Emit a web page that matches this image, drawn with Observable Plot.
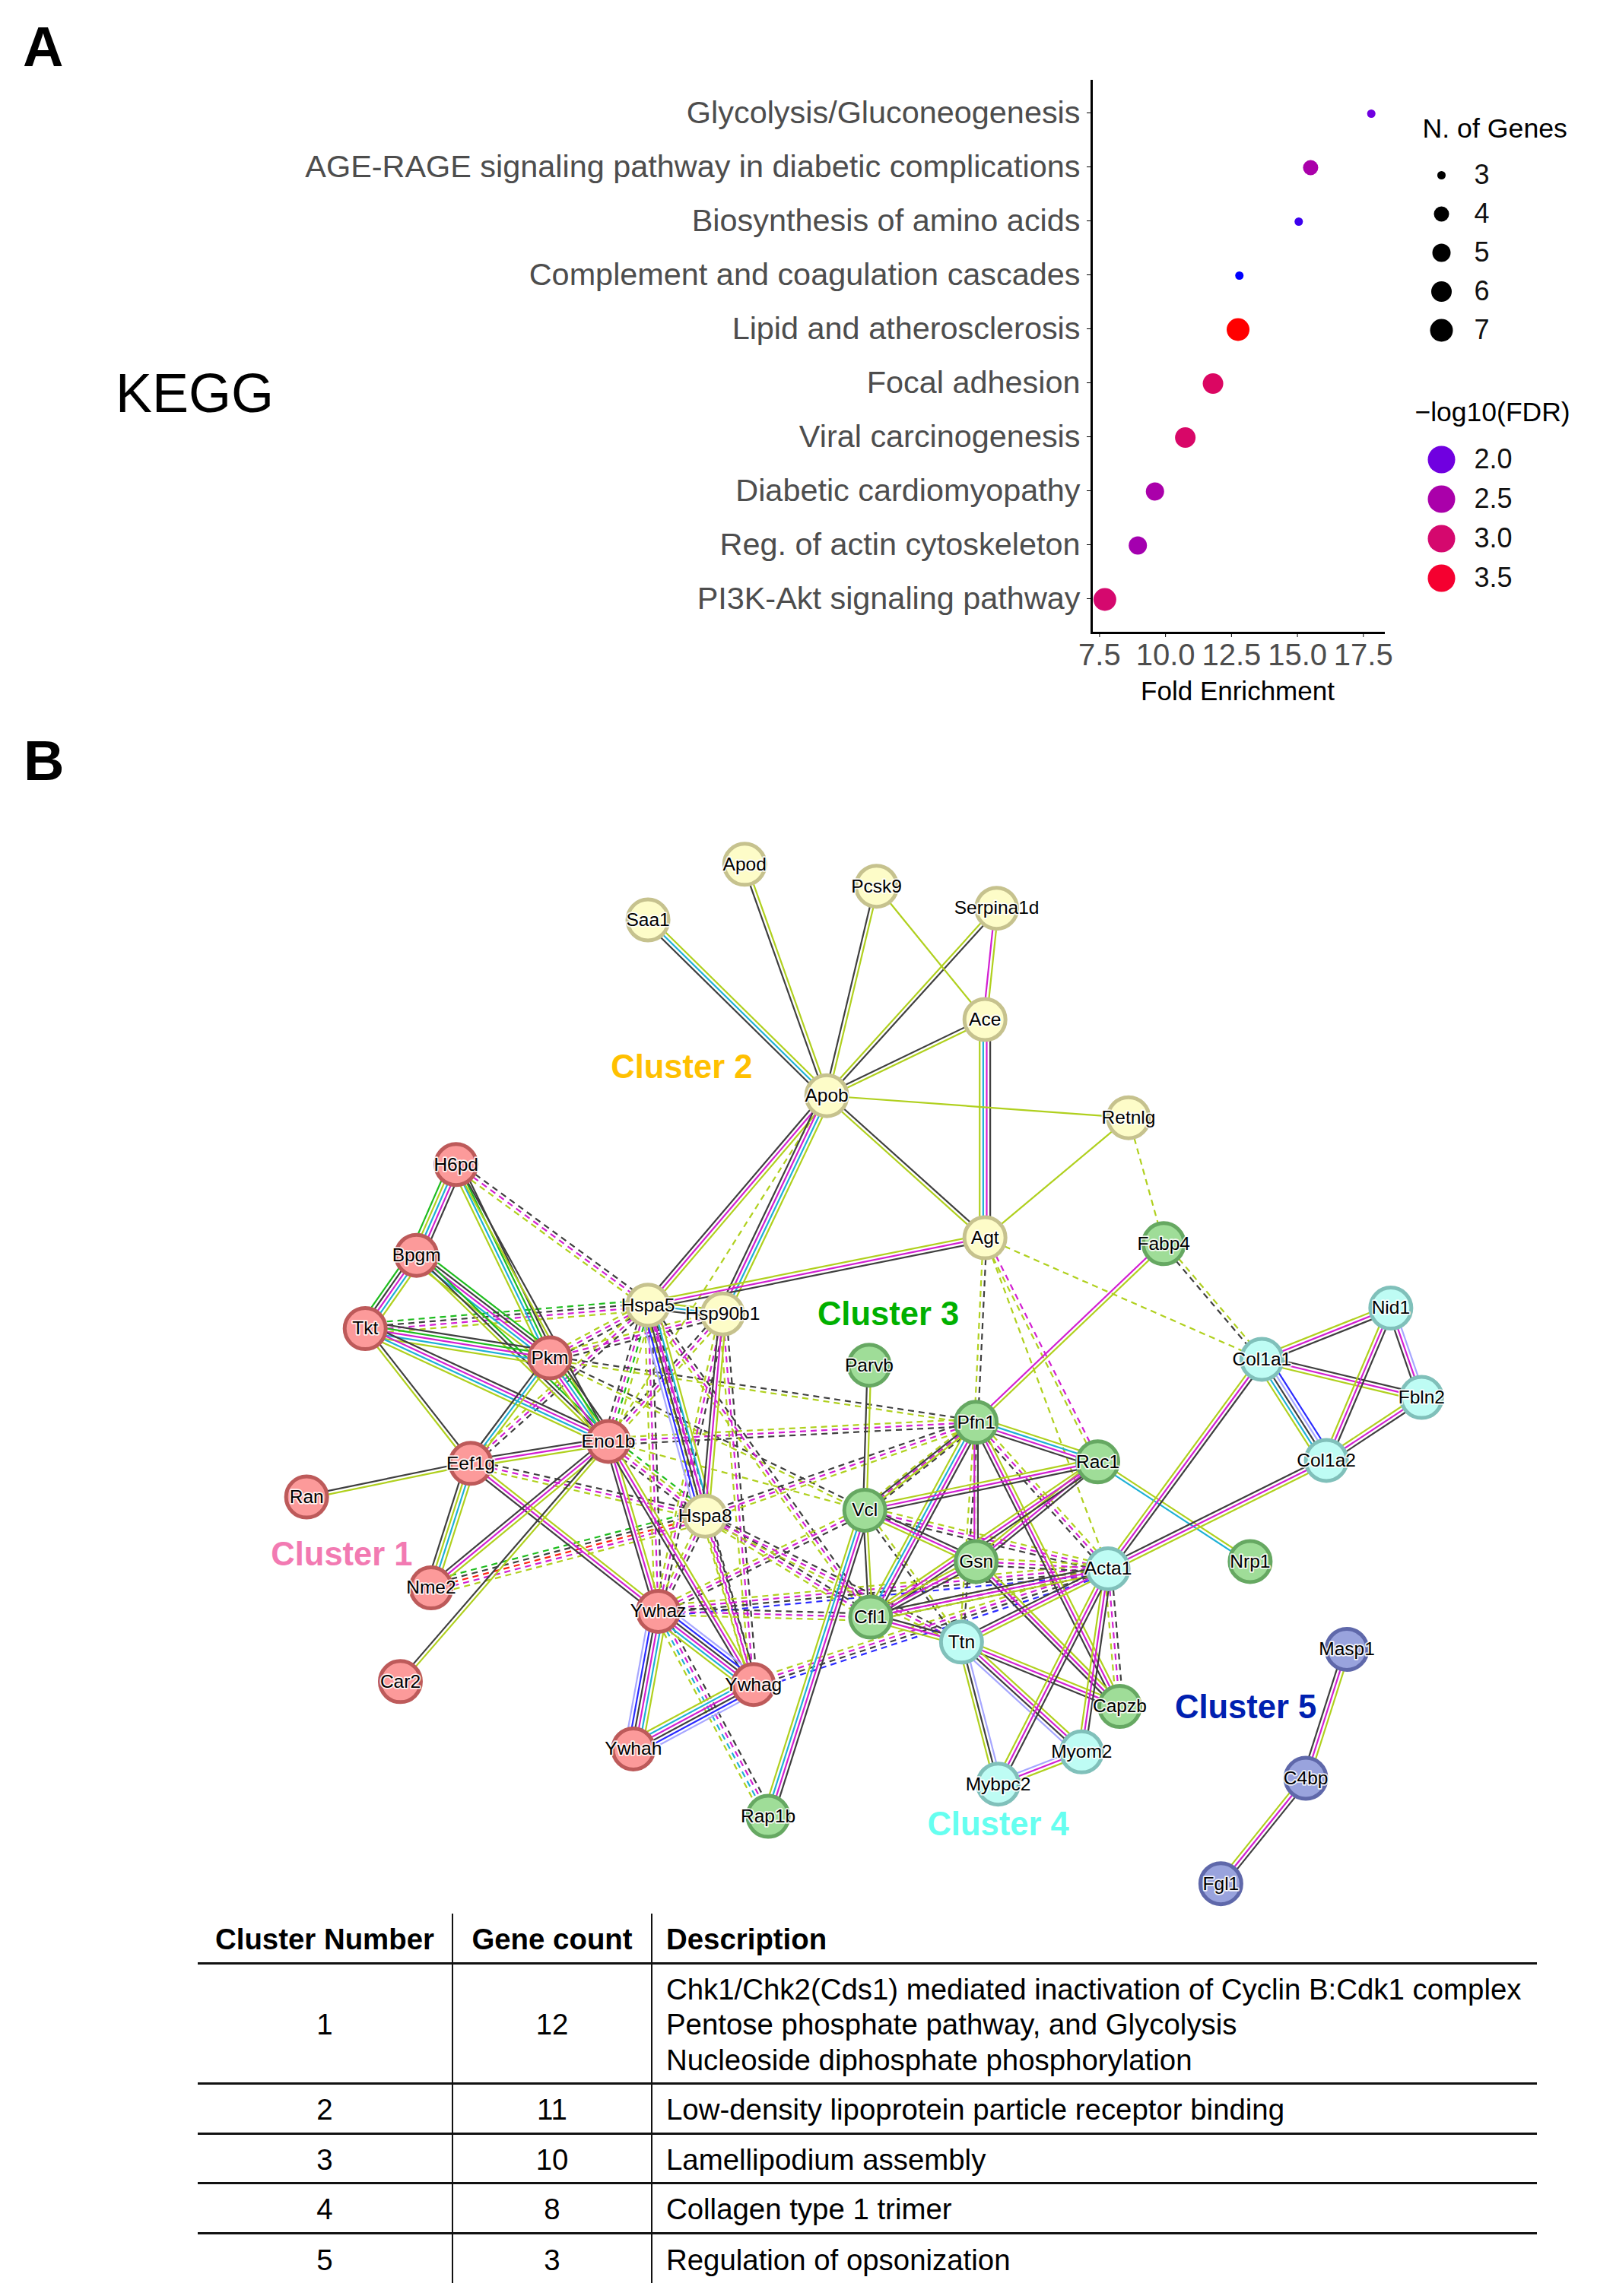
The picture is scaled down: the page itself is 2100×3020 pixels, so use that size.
<!DOCTYPE html>
<html><head><meta charset="utf-8">
<script src="https://cdn.jsdelivr.net/npm/d3@7"></script>
<script src="https://cdn.jsdelivr.net/npm/@observablehq/plot@0.6"></script>
<style>
html,body{margin:0;padding:0;background:#fff;font-family:"Liberation Sans",Arial,sans-serif;}
#page{position:relative;width:2100px;height:3020px;overflow:hidden;background:#fff;}
#page>svg,#page>div{position:absolute;}
.letter{font-weight:700;font-size:74px;line-height:74px;color:#000;}
#kegg{font-size:72px;line-height:72px;color:#000;left:152px;top:481px;}
table{position:absolute;left:260px;top:2517px;width:1761px;border-collapse:collapse;table-layout:fixed;font-size:38.4px;color:#000;}
th,td{padding:5px 0 0 0;text-align:center;vertical-align:middle;line-height:46.5px;font-weight:400;box-sizing:border-box;}
th{font-weight:700;}
th+th,td+td{border-left:2px solid #111;}
th:last-child,td:last-child{text-align:left;padding-left:18px;}
tr{border-bottom:3px solid #111;}
tr:last-child{border-bottom:none;}
</style></head>
<body><div id="page"></div>
<script>
// Panel A
const pathways=["Glycolysis/Gluconeogenesis","AGE-RAGE signaling pathway in diabetic complications","Biosynthesis of amino acids","Complement and coagulation cascades","Lipid and atherosclerosis","Focal adhesion","Viral carcinogenesis","Diabetic cardiomyopathy","Reg. of actin cytoskeleton","PI3K-Akt signaling pathway"];
const foldEnrichment=[17.8,15.5,15.05,12.8,12.75,11.8,10.75,9.6,8.95,7.7];
const geneCount=[3,4,3,3,7,6,6,5,5,7];
const fdr=[2.0,2.5,1.93,1.85,3.6,3.1,3.05,2.5,2.45,3.0];
const xTicks=[7.5,10,12.5,15,17.5];
const sizeLevels=[3,4,5,6,7];
const fdrLevels=[2.0,2.5,3.0,3.5];
// Panel B: nodes, with layout positions
const cluster1=["H6pd","Bpgm","Tkt","Pkm","Eno1b","Eef1g","Ran","Nme2","Car2","Ywhaz","Ywhag","Ywhah"];
const cluster1X=[311,284,249,375,415,321,209,294,273,449,514,432];
const cluster1Y=[795,857,907,927,984,999,1022,1084,1148,1100,1150,1194];
const cluster2=["Saa1","Apod","Pcsk9","Serpina1d","Ace","Apob","Retnlg","Agt","Hspa5","Hsp90b1","Hspa8"];
const cluster2X=[442,508,598,680,672,564,770,672,442,493,481];
const cluster2Y=[628,590,605,620,696,748,763,845,891,897,1035];
const cluster3=["Fabp4","Parvb","Pfn1","Rac1","Vcl","Gsn","Nrp1","Cfl1","Capzb","Rap1b"];
const cluster3X=[794,593,666,749,590,666,853,594,764,524];
const cluster3Y=[849,932,971,998,1031,1066,1066,1104,1165,1240];
const cluster4=["Col1a1","Nid1","Fbln2","Col1a2","Acta1","Ttn","Myom2","Mybpc2"];
const cluster4X=[861,949,970,905,756,656,738,681];
const cluster4Y=[928,893,954,997,1071,1121,1196,1218];
const cluster5=["Masp1","C4bp","Fgl1"];
const cluster5X=[919,891,833];
const cluster5Y=[1126,1214,1286];
const clusterNames=["Cluster 1","Cluster 2","Cluster 3","Cluster 4","Cluster 5"];
const clusterNameX=[233,465,606,681,850];
const clusterNameY=[1061,728,897,1245,1165];
const clusterNameColor=["#f27ab2","#ffc000","#00b000","#66fff0","#0020b0"];
const clusterFill=["#fc9a9a","#fdfcc8","#9fdd98","#befcf4","#99a3dd"];
const clusterStroke=["#bd5a5a","#c6c28e","#66a862","#80c0ba","#5f68aa"];
// evidence channels: k coexpression, m experiments, c databases, y textmining, g neighbourhood, b/l homology, r fusion
const channelColor={k:"#3f3f3f",m:"#d21fd2",c:"#1eb0d6",y:"#b0d01e",g:"#1ebc1e",b:"#2a2aff",l:"#a6a6ff",r:"#ff2010"};
const solidEdges=["Saa1 Apob kcy","Apod Apob ky","Pcsk9 Apob ky","Serpina1d Apob yk","Pcsk9 Ace y","Serpina1d Ace my","Ace Apob ky","Ace Agt ycmk","Apob Retnlg y","Apob Agt yk","Retnlg Agt y","Apob Hspa5 kmy","Apob Hsp90b1 kmcy","Agt Hspa5 ymk","Hspa5 Hsp90b1 kcy","Hspa5 Hspa8 lbkmcy","Hsp90b1 Hspa8 kmy",
"H6pd Bpgm gycmk","H6pd Pkm ycgk","H6pd Eno1b yk","Bpgm Tkt gkmcy","Bpgm Pkm ycmkg","Bpgm Eno1b ykg","Tkt Pkm ycmgk","Tkt Eno1b ycmk","Tkt Eef1g yk","Pkm Eno1b ymcgk","Pkm Eef1g kcy","Eef1g Eno1b kmy","Eef1g Ran ky","Eef1g Nme2 kycy","Eef1g Ywhaz kmy","Eno1b Nme2 kmy","Eno1b Car2 ky","Eno1b Ywhaz kmy","Eno1b Ywhag kmy","Ywhaz Ywhag ycmkbl","Ywhaz Ywhah lbkmcy","Ywhag Ywhah ycmkbl",
"Parvb Vcl ky","Pfn1 Vcl ky","Pfn1 Rac1 kmcy","Pfn1 Gsn mk","Pfn1 Cfl1 ycmk","Pfn1 Capzb kmy","Pfn1 Fabp4 my","Vcl Rac1 ymk","Vcl Gsn ymk","Vcl Cfl1 ky","Vcl Rap1b ycmk","Rac1 Gsn ymk","Rac1 Cfl1 ymk","Rac1 Nrp1 cy","Gsn Cfl1 ymk","Gsn Capzb kmy","Cfl1 Acta1 kmy","Cfl1 Ttn ymk","Ttn Acta1 kmy","Ttn Capzb kmy","Ttn Myom2 lkmy","Ttn Mybpc2 ykl","Acta1 Myom2 ymk","Acta1 Mybpc2 ymk","Mybpc2 Myom2 lmy","Acta1 Col1a1 ymk","Acta1 Col1a2 kmy","Col1a1 Nid1 ymk","Col1a1 Fbln2 ymk","Col1a1 Col1a2 ycklb","Nid1 Fbln2 kml","Nid1 Col1a2 ymk","Fbln2 Col1a2 ymk","Masp1 C4bp kmy","C4bp Fgl1 ymk"];
const dashedEdges=["Retnlg Fabp4 y","Apob Eno1b y","Agt Pfn1 yk","Agt Rac1 ym","Agt Acta1 y","Agt Col1a1 y","Fabp4 Col1a1 ky",
"Hspa5 H6pd ymk","Hspa5 Tkt gkmy","Hspa5 Pkm ymk","Hsp90b1 Pkm ymk","Hspa5 Eno1b kmgy","Hsp90b1 Eno1b kmy","Hspa5 Eef1g ymk","Hspa8 Eno1b kmyg","Pkm Pfn1 yk","Pkm Vcl yk","Eno1b Vcl y","Eno1b Pfn1 ymk","Eef1g Hspa8 ymk","Nme2 Hspa8 gkrmy","Hspa5 Ywhaz ymk","Hsp90b1 Ywhaz ymk","Hspa8 Ywhaz ymk","Hspa5 Ywhag ymk","Hsp90b1 Ywhag ymk","Hspa8 Ywhag ymk","Hspa5 Cfl1 ymk","Hspa8 Pfn1 kmy","Ywhaz Vcl ymk","Ywhaz Acta1 ymkb","Ywhaz Cfl1 ymk","Hspa8 Cfl1 ymk","Hspa8 Ttn ymk","Pfn1 Vcl ymk","Ywhag Acta1 ymkb","Ywhaz Rap1b ycmk","Vcl Acta1 kmy","Vcl Ttn ky","Pfn1 Ttn yk","Pfn1 Acta1 kmy","Pfn1 Gsn yk","Gsn Acta1 kmy","Acta1 Capzb ymk","Cfl1 Acta1 ymk"];
// Table
const tableHeader=["Cluster Number","Gene count","Description"];
const tableCluster=[1,2,3,4,5];
const tableCount=[12,11,10,8,3];
const tableDescription=[["Chk1/Chk2(Cds1) mediated inactivation of Cyclin B:Cdk1 complex","Pentose phosphate pathway, and Glycolysis","Nucleoside diphosphate phosphorylation"],["Low-density lipoprotein particle receptor binding"],["Lamellipodium assembly"],["Collagen type 1 trimer"],["Regulation of opsonization"]];

const FONT="'Liberation Sans',Arial,sans-serif";
const page=document.getElementById("page");
function put(el,left,top){el.style.left=left+"px";el.style.top=top+"px";page.appendChild(el);return el;}
function letter(t,l,tp){const d=document.createElement("div");d.className="letter";d.textContent=t;put(d,l,tp);}
letter("A",30,25);letter("B",31,964);
const k=document.createElement("div");k.id="kegg";k.textContent="KEGG";page.appendChild(k);

const rScale={type:"linear",domain:sizeLevels,range:[5.5,10,12,13.5,15]};
const colorScale={type:"linear",domain:[1.85,2,2.5,3,3.5,3.6],range:["#0000ff","#7000e0","#aa00aa","#d5086e","#f50030","#ff0000"]};

// Dot plot
const enrich=pathways.map((p,i)=>({p,fe:foldEnrichment[i],n:geneCount[i],fdr:fdr[i]}));
put(Plot.plot({width:2100,height:960,marginLeft:1435,marginRight:281,marginTop:106,marginBottom:128,
 style:{fontFamily:FONT,background:"transparent",overflow:"visible"},
 x:{domain:[7.2,18.27]},y:{type:"point",padding:0,domain:pathways,range:[146,790]},r:rScale,color:colorScale,
 marks:[
  Plot.frame({anchor:"left",stroke:"#000",strokeWidth:3}),
  Plot.frame({anchor:"bottom",stroke:"#000",strokeWidth:3}),
  Plot.axisY({tickSize:6,tickPadding:9,fontSize:41.4,dy:-1,label:null,stroke:"#000",fill:"#4d4d4d",textStroke:"none",lineWidth:Infinity,marginLeft:1400}),
  Plot.axisX({ticks:xTicks,tickFormat:d3.format(".1f"),tickSize:6,tickPadding:8,fontSize:40,label:null,stroke:"#000",fill:"#4d4d4d"}),
  Plot.text(["Fold Enrichment"],{frameAnchor:"bottom",dy:88,fontSize:35,fill:"#000"}),
  Plot.dot(enrich,{x:"fe",y:"p",r:"n",fill:"fdr",stroke:"none"})
 ]}),0,0);

// Legends
put(Plot.plot({width:230,height:310,margin:0,axis:null,style:{fontFamily:FONT,background:"transparent",overflow:"visible"},
 x:{domain:[0,230],range:[0,230]},y:{type:"point",padding:0,domain:sizeLevels,range:[78,285]},r:rScale,
 marks:[
  Plot.text(["N. of Genes"],{frameAnchor:"top-left",dx:2,dy:5,fontSize:35.7,fill:"#000",lineAnchor:"top"}),
  Plot.dot(sizeLevels,{x:()=>27,y:d=>d,r:d=>d,fill:"#000"}),
  Plot.text(sizeLevels,{x:()=>70,y:d=>d,text:d=>String(d),textAnchor:"start",fontSize:36,fill:"#111"})
 ]}),1868,150);
put(Plot.plot({width:240,height:310,margin:0,axis:null,style:{fontFamily:FONT,background:"transparent",overflow:"visible"},
 x:{domain:[0,240],range:[0,240]},y:{type:"point",padding:0,domain:fdrLevels,range:[78,234]},color:colorScale,
 marks:[
  Plot.text(["−log10(FDR)"],{frameAnchor:"top-left",dx:2,dy:2,fontSize:35.5,fill:"#000",lineAnchor:"top"}),
  Plot.dot(fdrLevels,{x:()=>37,y:d=>d,r:18,fill:d=>d}),
  Plot.text(fdrLevels,{x:()=>80,y:d=>d,text:d=>d.toFixed(1),textAnchor:"start",fontSize:36,fill:"#111"})
 ]}),1858,526);

// Network
const nodes=[];
[[cluster1,cluster1X,cluster1Y],[cluster2,cluster2X,cluster2Y],[cluster3,cluster3X,cluster3Y],[cluster4,cluster4X,cluster4Y],[cluster5,cluster5X,cluster5Y]].forEach(([n,xs,ys],c)=>n.forEach((name,i)=>nodes.push({name,x:xs[i],y:ys[i],c})));
const byName=new Map(nodes.map(n=>[n.name,n]));
const SPACING=2.4; // parallel strand separation, in layout units
function strands(list){
 const out=[];
 for(const e of list){
  const [a,b,ch]=e.split(" ");let s=byName.get(a),t=byName.get(b);
  if(t.y<s.y){[s,t]=[t,s];}
  const dx=t.x-s.x,dy=t.y-s.y,L=Math.hypot(dx,dy),nx=dy/L,ny=-dx/L;
  [...ch].forEach((c,i)=>{const o=(i-(ch.length-1)/2)*SPACING;
   out.push({x1:s.x+nx*o,y1:s.y+ny*o,x2:t.x+nx*o,y2:t.y+ny*o,color:channelColor[c]});});
 }
 return out;
}
const labels=clusterNames.map((t,i)=>({t,x:clusterNameX[i],y:clusterNameY[i],color:clusterNameColor[i]}));
put(Plot.plot({width:2100,height:1480,margin:0,axis:null,style:{fontFamily:FONT,background:"transparent",overflow:"visible"},
 x:{domain:[0,1090],range:[0,2100]},y:{domain:[540,1308.2],range:[0,1480]},color:{type:"identity"},
 marks:[
  Plot.link(strands(dashedEdges),{x1:"x1",y1:"y1",x2:"x2",y2:"y2",stroke:"color",strokeWidth:2.2,strokeDasharray:"8,6"}),
  Plot.link(strands(solidEdges),{x1:"x1",y1:"y1",x2:"x2",y2:"y2",stroke:"color",strokeWidth:2.2}),
  Plot.dot(nodes,{x:"x",y:"y",r:27,fill:d=>clusterFill[d.c],stroke:d=>clusterStroke[d.c],strokeWidth:5}),
  Plot.text(nodes,{x:"x",y:"y",text:"name",fontSize:24.5,fill:"#000",stroke:"#fff",strokeWidth:3.5,strokeOpacity:.85}),
  Plot.text(labels,{x:"x",y:"y",dy:1,text:"t",fontSize:43.5,fontWeight:700,fill:"color"})
 ]}),0,1040);

// Table
const heights=[158,66,65,66,66];
const tb=document.createElement("table");
tb.innerHTML=`<colgroup><col style="width:335px"><col style="width:262px"><col style="width:1164px"></colgroup>`+
 `<tr style="height:65px">${tableHeader.map(h=>`<th>${h}</th>`).join("")}</tr>`+
 tableCluster.map((c,i)=>`<tr style="height:${heights[i]}px"><td>${c}</td><td>${tableCount[i]}</td><td>${tableDescription[i].join("<br>")}</td></tr>`).join("");
page.appendChild(tb);
</script></body></html>
